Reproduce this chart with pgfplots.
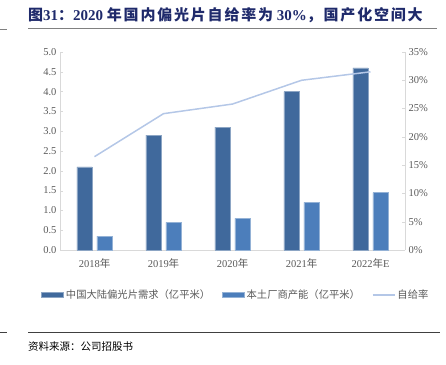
\documentclass[border=0pt]{standalone}
\usepackage{fontspec}
\setmainfont{Liberation Serif}
\newfontfamily\cjk{Noto Sans CJK SC}
\newfontfamily\cjkt{Noto Sans CJK SC}[LetterSpace=12]
\usepackage{pgfplots}
\pgfplotsset{compat=1.18}
\definecolor{cDem}{HTML}{40699C}
\definecolor{cCap}{HTML}{4C7EBB}
\definecolor{cLine}{HTML}{B4C7E7}
\definecolor{cTitle}{HTML}{1F2A6B}
\definecolor{cTxt}{HTML}{595959}
\definecolor{cAx}{HTML}{D9D9D9}
\newcommand\cj[1]{{\cjk #1}}
\begin{document}
\begin{tikzpicture}
\path[use as bounding box] (0pt,0pt) rectangle (446pt,364pt);
\draw[gray, line width=0.8pt] (0pt,335pt) -- (7pt,335pt);
\draw[gray, line width=0.8pt] (28pt,336pt) -- (437pt,336pt);
\node[anchor=base west, text=cTitle, inner sep=0, font=\fontsize{15}{17}\selectfont\bfseries] at (28pt,343pt)
 {{\cjkt 图}31{\cjkt ：}2020 {\cjkt 年国内偏光片自给率为} 30\%{\cjkt ，国产化空间大}};
\draw[black!75, line width=0.8pt] (0pt,32pt) -- (7pt,32pt);
\draw[black!75, line width=0.8pt] (28pt,32pt) -- (440pt,32pt);
\node[anchor=west, inner sep=0, font=\fontsize{10.5}{12}\selectfont] at (28pt,17pt) {\cj{资料来源：公司招股书}};

\begin{axis}[
  at={(60pt,114pt)}, anchor=south west,
  width=345pt, height=198pt, scale only axis,
  xmin=-0.5, xmax=4.5, ymin=0, ymax=5,
  xtick={0,1,2,3,4},
  xticklabels={{2018\cj{年}},{2019\cj{年}},{2020\cj{年}},{2021\cj{年}},{2022\cj{年}E}},
  ytick={0,0.5,...,5},
  yticklabel style={/pgf/number format/.cd, fixed, fixed zerofill, precision=1},
  /pgf/number format/assume math mode=true,
  tick label style={font=\fontsize{10.5}{12}\selectfont, text=cTxt},
  axis y line*=left, axis x line*=bottom,
  axis line style={cAx, line width=0.8pt},
  y axis line style={-}, x axis line style={-},
  ytick style={cAx}, xtick style={draw=none},
  major tick length=3pt,
  xticklabel style={yshift=-2pt},
  ybar, bar width=0.22,
  legend columns=3,
  legend style={at={(0.51,-0.227)}, anchor=center, draw=none, fill=none,
    font=\fontsize{10.3}{12}\selectfont\cjk, text=cTxt,
    /tikz/every even column/.append style={column sep=10pt}},
  legend image code/.code={\fill (0pt,-2.5pt) rectangle (22pt,2.5pt);},
]
\addplot[fill=cDem, draw=cDem!60!white, line width=0.5pt, bar shift=-0.145]
 coordinates {(0,2.1) (1,2.9) (2,3.1) (3,4.0) (4,4.6)};
\addlegendentry{中国大陆偏光片需求（亿平米）}
\addplot[fill=cCap, draw=cCap!60!white, line width=0.5pt, bar shift=0.145]
 coordinates {(0,0.35) (1,0.7) (2,0.8) (3,1.2) (4,1.45)};
\addlegendentry{本土厂商产能（亿平米）}
\addlegendimage{legend image code/.code={\draw[cLine, line width=1.5pt] (0pt,0pt) -- (22pt,0pt);}}
\addlegendentry{自给率}
\end{axis}

\begin{axis}[
  at={(60pt,114pt)}, anchor=south west,
  width=345pt, height=198pt, scale only axis,
  xmin=-0.5, xmax=4.5, ymin=0, ymax=35,
  hide x axis,
  axis y line*=right,
  y axis line style={-, cAx, line width=0.8pt},
  ytick={0,5,...,35},
  yticklabel={\pgfmathprintnumber{\tick}\%},
  /pgf/number format/assume math mode=true,
  tick label style={font=\fontsize{10.5}{12}\selectfont, text=cTxt},
  ytick style={cAx}, major tick length=3pt, tick align=inside,
]
\addplot[cLine, line width=1.5pt, mark=none]
 coordinates {(0,16.5) (1,24.1) (2,25.8) (3,30.0) (4,31.5)};
\end{axis}
\end{tikzpicture}
\end{document}
